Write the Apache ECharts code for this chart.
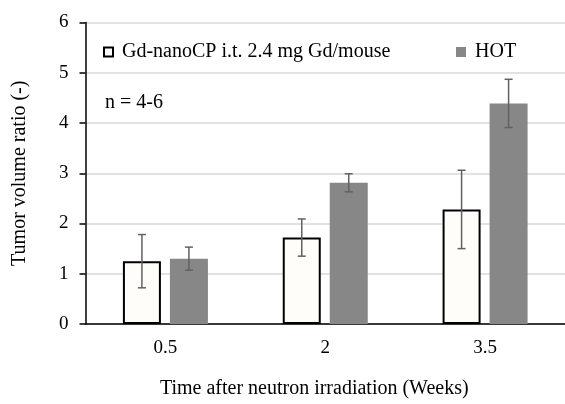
<!DOCTYPE html>
<html>
<head>
<meta charset="utf-8">
<script src="https://cdn.jsdelivr.net/npm/echarts@6/dist/echarts.min.js"></script>
<style>html,body{margin:0;padding:0;background:#fff}#c{width:565px;height:404px}</style>
</head>
<body>
<div id="c"></div>
<script>
var categories = ['0.5', '2', '3.5'];
var seriesNames = ['Gd-nanoCP i.t. 2.4 mg Gd/mouse', 'HOT'];
var gdValues = [1.25, 1.72, 2.28];
var gdErrors = [0.53, 0.37, 0.78];
var hotValues = [1.30, 2.81, 4.39];
var hotErrors = [0.23, 0.18, 0.48];
var yTicks = [0, 1, 2, 3, 4, 5, 6];
var noteText = 'n = 4-6';
var xTitle = 'Time after neutron irradiation (Weeks)';
var yTitle = 'Tumor volume ratio (-)';

var FONT = 'Liberation Serif';
var BAR_W = 38, GAP_PX = 9;
var OFFSET = (BAR_W + GAP_PX) / 2;

function errData(vals, errs) {
  return vals.map(function (v, i) { return [i, v - errs[i], v + errs[i]]; });
}
function errSeries(vals, errs, dir) {
  return {
    type: 'custom',
    z: 5,
    silent: true,
    data: errData(vals, errs),
    encode: { x: 0, y: [1, 2] },
    renderItem: function (params, api) {
      var lo = api.coord([api.value(0), api.value(1)]);
      var hi = api.coord([api.value(0), api.value(2)]);
      var x = lo[0] + dir * OFFSET;
      var cap = 4;
      var st = { stroke: '#616161', lineWidth: 1.5 };
      return {
        type: 'group',
        children: [
          { type: 'line', shape: { x1: x, y1: lo[1], x2: x, y2: hi[1] }, style: st },
          { type: 'line', shape: { x1: x - cap, y1: lo[1], x2: x + cap, y2: lo[1] }, style: st },
          { type: 'line', shape: { x1: x - cap, y1: hi[1], x2: x + cap, y2: hi[1] }, style: st }
        ]
      };
    }
  };
}

var chart = echarts.init(document.getElementById('c'), null, { renderer: 'canvas' });
chart.setOption({
  animation: false,
  backgroundColor: '#ffffff',
  textStyle: { fontFamily: FONT },
  grid: { left: 85.5, right: -11, top: 22.5, bottom: 72, containLabel: false },
  legend: [
    {
      data: [{ name: seriesNames[0], itemStyle: { color: '#fffdfa', borderColor: '#000', borderWidth: 2 } }],
      left: 103, top: 42, padding: 0, itemWidth: 9, itemHeight: 9, icon: 'rect',
      textStyle: { fontFamily: FONT, fontSize: 20, color: '#000', padding: [0, 0, 0, 4] }
    },
    {
      data: [{ name: seriesNames[1], itemStyle: { color: '#878787' } }],
      left: 456, top: 42, padding: 0, itemWidth: 10, itemHeight: 10, icon: 'rect',
      textStyle: { fontFamily: FONT, fontSize: 20, color: '#000', padding: [0, 0, 0, 4] }
    }
  ],
  graphic: [
    { type: 'text', left: 105, top: 93, style: { text: noteText, font: '20px "Liberation Serif"', fill: '#000' } }
  ],
  xAxis: {
    type: 'category',
    data: categories,
    axisLine: { show: true, lineStyle: { color: '#000', width: 1.5 } },
    axisTick: { show: false },
    axisLabel: { fontFamily: FONT, fontSize: 19, color: '#000', margin: 15 },
    name: xTitle,
    nameLocation: 'middle',
    nameGap: 55,
    nameTextStyle: { fontFamily: FONT, fontSize: 20, color: '#000', padding: [0, 22, 0, 0] }
  },
  yAxis: {
    type: 'value',
    min: yTicks[0],
    max: yTicks[yTicks.length - 1],
    interval: 1,
    axisLine: { show: true, lineStyle: { color: '#000', width: 1.5 } },
    axisTick: { show: true, length: 6, lineStyle: { color: '#000', width: 1.5 } },
    axisLabel: { fontFamily: FONT, fontSize: 19, color: '#000', margin: 17 },
    splitLine: { show: true, lineStyle: { color: '#d9d9d9', width: 1.5 } },
    name: yTitle,
    nameLocation: 'middle',
    nameGap: 56,
    nameTextStyle: { fontFamily: FONT, fontSize: 20, color: '#000' }
  },
  series: [
    {
      name: seriesNames[0], type: 'bar', data: gdValues, barWidth: BAR_W,
      barGap: (GAP_PX / BAR_W * 100) + '%',
      itemStyle: { color: '#fffdfa', borderColor: '#000', borderWidth: 2 }
    },
    {
      name: seriesNames[1], type: 'bar', data: hotValues, barWidth: BAR_W,
      itemStyle: { color: '#878787' }
    },
    errSeries(gdValues, gdErrors, -1),
    errSeries(hotValues, hotErrors, 1)
  ]
});
</script>
</body>
</html>
